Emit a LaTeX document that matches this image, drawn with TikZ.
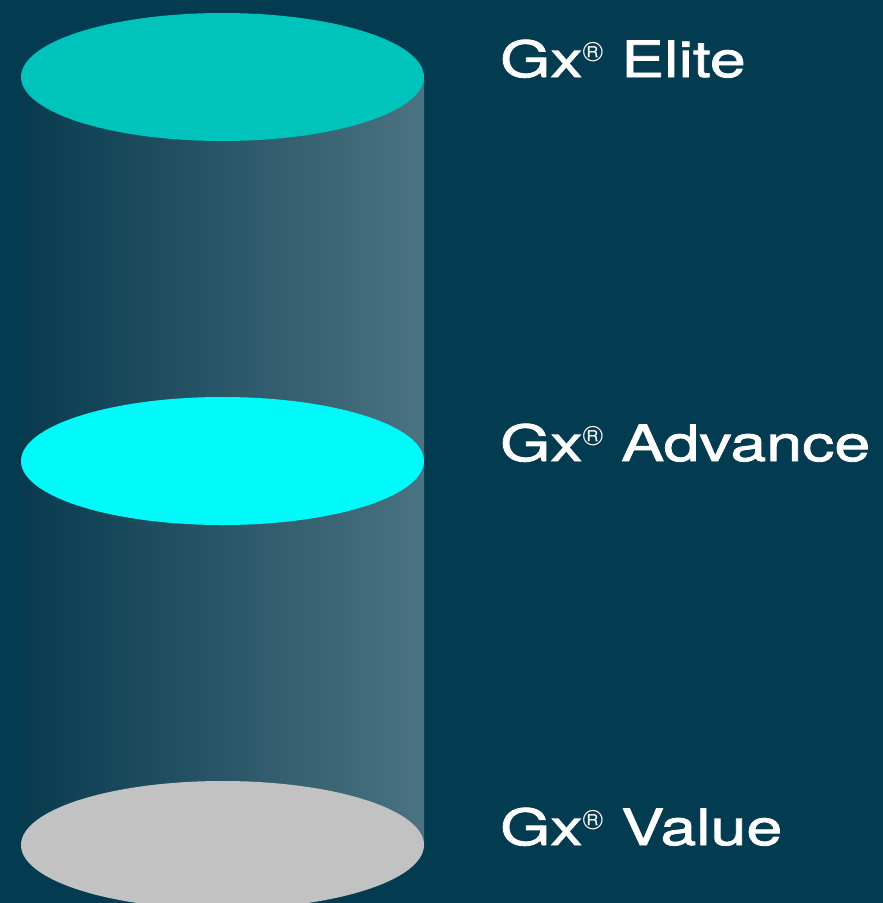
\documentclass[tikz,border=0pt]{standalone}
\usepackage{fontspec}
\setmainfont[FakeStretch = 1.29, FakeBold = 1.6]{TeX Gyre Heros}
\newfontfamily\regfont{TeX Gyre Heros}
\usetikzlibrary{shapes.geometric}

\definecolor{backdrop}{RGB}{3,59,80}
\definecolor{tubeleft}{RGB}{8,58,78}
\definecolor{tuberight}{RGB}{75,115,130}
\definecolor{elitecol}{RGB}{0,196,188}
\definecolor{advancecol}{RGB}{0,250,250}
\definecolor{valuecol}{RGB}{194,194,194}

\newcommand{\regmark}{\raisebox{16pt}{\fontsize{28}{28}\regfont ®}}

\begin{document}
\begin{tikzpicture}[
    x = 1pt, y = -1pt,
    disc/.style = {ellipse,
      minimum width = {403pt},
      minimum height = {128pt},
      inner sep = 0pt},
    elite/.style = {fill = elitecol},
    advance/.style = {fill = advancecol},
    value/.style = {fill = valuecol},
    tier/.style = {anchor = base west,
      inner sep = 0pt,
      text = white,
      font = \fontsize{50}{50}\selectfont},
    ]

    \fill [backdrop] (0, 0) rectangle (883, 903);
    \useasboundingbox (0, 0) rectangle (883, 903);

    \coordinate (top_c) at (222.5, 77);
    \coordinate (bot_c) at (222.5, 845);

    % body of the tube
    \shade [left color = tubeleft, right color = tuberight]
    ([xshift = -201.5pt] top_c) rectangle ([xshift = 201.5pt] bot_c);

    \node at (222.5, 845)
    [disc, value, name = D_value] {};
    \node at (222.5, 461)
    [disc, advance, name = D_advance] {};
    \node at (222.5, 77)
    [disc, elite, name = D_elite] {};

    \node at (500, 77)
    [tier, name = L_elite] {Gx\regmark\ Elite};
    \node at (500, 461)
    [tier, name = L_advance] {Gx\regmark\ Advance};
    \node at (500, 845)
    [tier, name = L_value] {Gx\regmark\ Value};
  \end{tikzpicture}
\end{document}
